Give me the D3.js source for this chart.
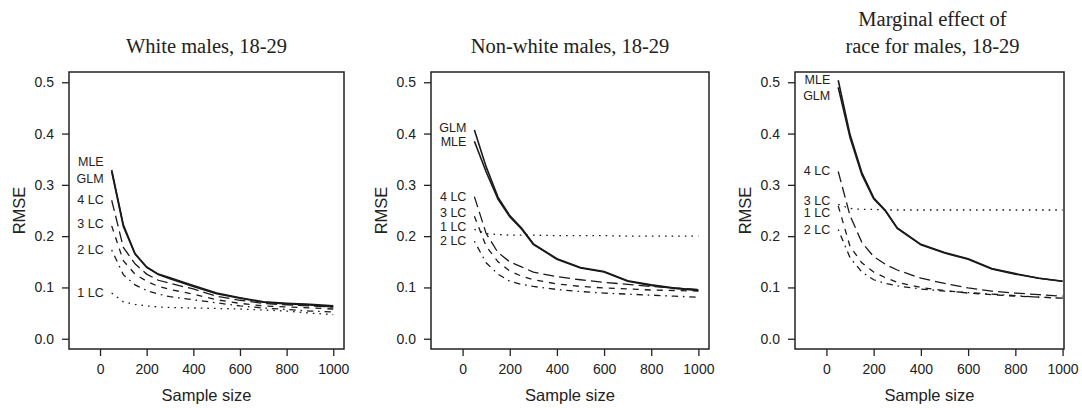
<!DOCTYPE html>
<html lang="en">
<head>
<meta charset="utf-8">
<title>RMSE by sample size</title>
<script src="https://d3js.org/d3.v7.min.js"></script>
<style>
  body { margin: 0; background: #fff; }
  .title { font-family: "Liberation Serif", "Times New Roman", serif; font-size: 20.5px; fill: #222; }
  .tick text { font-family: "Liberation Sans", Arial, sans-serif; font-size: 14px; fill: #222; }
  .axlab { font-family: "Liberation Sans", Arial, sans-serif; font-size: 16.5px; fill: #222; }
  .lbl { font-family: "Liberation Sans", Arial, sans-serif; font-size: 12.5px; fill: #222; }
</style>
</head>
<body>
<div id="chart"></div>
<script>
// sample sizes on the x axis
var sampleSizes = [50, 100, 150, 200, 250, 300, 400, 500, 600, 700, 800, 900, 1000];
var methods = ["MLE", "GLM", "4 LC", "3 LC", "2 LC", "1 LC"];
var yTicks = [0, 0.1, 0.2, 0.3, 0.4, 0.5];
var xTicks = [0, 200, 400, 600, 800, 1000];

// White males, 18-29
var white_MLE = [0.329, 0.222, 0.166, 0.140, 0.126, 0.119, 0.104, 0.089, 0.080, 0.072, 0.069, 0.067, 0.064];
var white_GLM = [0.326, 0.219, 0.165, 0.139, 0.125, 0.117, 0.102, 0.088, 0.079, 0.071, 0.068, 0.066, 0.062];
var white_4LC = [0.270, 0.178, 0.146, 0.126, 0.114, 0.108, 0.097, 0.083, 0.075, 0.069, 0.066, 0.064, 0.062];
var white_3LC = [0.220, 0.152, 0.126, 0.112, 0.102, 0.096, 0.087, 0.076, 0.069, 0.064, 0.062, 0.060, 0.058];
var white_2LC = [0.173, 0.125, 0.105, 0.094, 0.087, 0.082, 0.076, 0.070, 0.064, 0.060, 0.057, 0.054, 0.052];
var white_1LC = [0.089, 0.072, 0.067, 0.064, 0.062, 0.061, 0.060, 0.059, 0.058, 0.056, 0.054, 0.050, 0.047];
var white_labelY = [0.345, 0.313, 0.272, 0.225, 0.174, 0.090];

// Non-white males, 18-29
var nonwhite_MLE = [0.385, 0.325, 0.272, 0.238, 0.214, 0.184, 0.155, 0.138, 0.130, 0.112, 0.104, 0.098, 0.094];
var nonwhite_GLM = [0.407, 0.335, 0.276, 0.240, 0.216, 0.185, 0.156, 0.139, 0.131, 0.113, 0.105, 0.099, 0.095];
var nonwhite_4LC = [0.277, 0.205, 0.168, 0.150, 0.140, 0.130, 0.121, 0.115, 0.110, 0.106, 0.102, 0.099, 0.096];
var nonwhite_3LC = [0.239, 0.180, 0.150, 0.132, 0.122, 0.115, 0.107, 0.102, 0.099, 0.097, 0.095, 0.094, 0.093];
var nonwhite_2LC = [0.190, 0.148, 0.126, 0.112, 0.106, 0.102, 0.096, 0.092, 0.089, 0.087, 0.085, 0.083, 0.081];
var nonwhite_1LC = [0.213, 0.205, 0.203, 0.202, 0.202, 0.202, 0.201, 0.201, 0.201, 0.200, 0.200, 0.200, 0.200];
var nonwhite_labelY = [0.385, 0.411, 0.278, 0.245, 0.191, 0.218];

// Marginal effect of race for males, 18-29
var race_MLE = [0.504, 0.398, 0.324, 0.275, 0.250, 0.216, 0.184, 0.168, 0.156, 0.137, 0.127, 0.118, 0.112];
var race_GLM = [0.490, 0.392, 0.320, 0.273, 0.249, 0.215, 0.183, 0.167, 0.155, 0.136, 0.126, 0.118, 0.112];
var race_4LC = [0.326, 0.240, 0.188, 0.160, 0.145, 0.134, 0.118, 0.108, 0.099, 0.093, 0.089, 0.086, 0.083];
var race_3LC = [0.259, 0.180, 0.148, 0.130, 0.119, 0.110, 0.100, 0.094, 0.089, 0.086, 0.083, 0.081, 0.079];
var race_2LC = [0.213, 0.158, 0.130, 0.115, 0.108, 0.103, 0.097, 0.093, 0.090, 0.087, 0.084, 0.081, 0.079];
var race_1LC = [0.262, 0.254, 0.252, 0.252, 0.251, 0.251, 0.251, 0.251, 0.251, 0.251, 0.251, 0.251, 0.251];
var race_labelY = [0.506, 0.474, 0.327, 0.270, 0.212, 0.246];

// line styles per method (R lty look)
var styles = {
  "MLE":  {dash: null, w: 1.6},
  "GLM":  {dash: null, w: 1.6},
  "4 LC": {dash: "11,5", w: 1.3},
  "3 LC": {dash: "6,6", w: 1.3},
  "2 LC": {dash: "1.6,4.8,6.4,4.8", w: 1.3},
  "1 LC": {dash: "1.6,5", w: 1.3}
};

var panels = [
  {title: ["White males, 18-29"], left: 69, right: 344, xdom: [-133, 1046],
   series: [white_MLE, white_GLM, white_4LC, white_3LC, white_2LC, white_1LC], labelY: white_labelY},
  {title: ["Non-white males, 18-29"], left: 431, right: 709, xdom: [-134, 1045],
   series: [nonwhite_MLE, nonwhite_GLM, nonwhite_4LC, nonwhite_3LC, nonwhite_2LC, nonwhite_1LC], labelY: nonwhite_labelY},
  {title: ["Marginal effect of", "race for males, 18-29"], left: 795, right: 1064, xdom: [-133, 1006],
   series: [race_MLE, race_GLM, race_4LC, race_3LC, race_2LC, race_1LC], labelY: race_labelY}
];

var W = 1082, H = 408, plotTop = 72, plotBottom = 349;

var svg = d3.select("#chart").append("svg")
  .attr("width", W).attr("height", H)
  .style("display", "block");

var y = d3.scaleLinear().domain([-0.02, 0.52]).range([plotBottom, plotTop]);

panels.forEach(function(p) {
  var x = d3.scaleLinear().domain(p.xdom).range([p.left, p.right]);
  var g = svg.append("g");
  var cx = (p.left + p.right) / 2;

  // title
  p.title.forEach(function(t, i) {
    g.append("text").attr("class", "title")
      .attr("x", cx + (p.title.length > 1 ? 3 : 0))
      .attr("y", 53 - (p.title.length - 1 - i) * 27.5)
      .attr("text-anchor", "middle")
      .text(t);
  });

  // axes
  var ya = g.append("g").attr("transform", "translate(" + p.left + ",0)")
    .call(d3.axisLeft(y).tickValues(yTicks).tickFormat(d3.format(".1f")).tickSize(7).tickPadding(8));
  var xa = g.append("g").attr("transform", "translate(0," + plotBottom + ")")
    .call(d3.axisBottom(x).tickValues(xTicks).tickFormat(d3.format("d")).tickSize(7).tickPadding(8));
  [ya, xa].forEach(function(a) {
    a.select(".domain").remove();
    a.selectAll(".tick line").attr("stroke", "#222").attr("stroke-width", 1.3);
  });

  // box
  g.append("rect")
    .attr("x", p.left).attr("y", plotTop)
    .attr("width", p.right - p.left).attr("height", plotBottom - plotTop)
    .attr("fill", "none").attr("stroke", "#222").attr("stroke-width", 1.5);

  g.append("text").attr("class", "axlab")
    .attr("x", cx).attr("y", 401)
    .attr("text-anchor", "middle").text("Sample size");
  g.append("text").attr("class", "axlab")
    .attr("transform", "translate(" + (p.left - 44) + "," + ((plotTop + plotBottom) / 2) + ")rotate(-90)")
    .attr("text-anchor", "middle").text("RMSE");

  var line = d3.line()
    .x(function(d, i) { return x(sampleSizes[i]); })
    .y(function(d) { return y(d); });

  p.series.forEach(function(vals, k) {
    var st = styles[methods[k]];
    g.append("path")
      .attr("d", line(vals))
      .attr("fill", "none")
      .attr("stroke", "#1a1a1a")
      .attr("stroke-width", st.w)
      .attr("stroke-dasharray", st.dash);
    g.append("text").attr("class", "lbl")
      .attr("x", x(sampleSizes[0]) - 8)
      .attr("y", y(p.labelY[k]))
      .attr("dy", "0.35em")
      .attr("text-anchor", "end")
      .text(methods[k]);
  });
});
</script>
</body>
</html>
